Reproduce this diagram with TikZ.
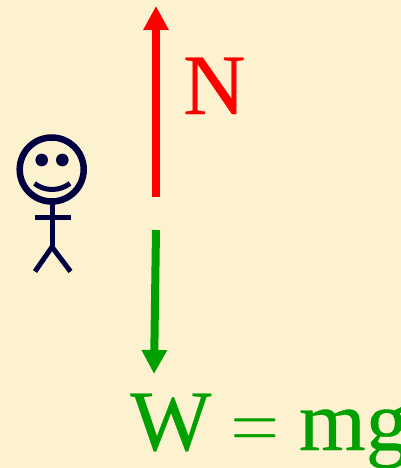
\documentclass[tikz,border=0pt]{standalone}
\usepackage{fontspec}
\setmainfont[FakeBold=0.4]{Liberation Serif}
\newfontfamily\eqfont{Latin Modern Roman}
\usetikzlibrary{arrows.meta}
\definecolor{bgc}{HTML}{FCF2D0}
\definecolor{navyc}{HTML}{000040}
\definecolor{greenc}{HTML}{00A000}
\tikzset{
  x=1pt,y=-1pt,
  force/.style={line width=8pt,-{Triangle[length=24pt,width=24pt]}},
  figure/.style={navyc,line width=5pt},
  lab/.style={anchor=base west,inner sep=0pt,font=\fontsize{86}{90}\selectfont}
}
\begin{document}
\begin{tikzpicture}
\useasboundingbox (0,0) rectangle (401,468);
\clip (0,0) rectangle (401,468);
\fill[bgc] (0,0) rectangle (401,468);
% forces
\coordinate (nstart) at (156,197);
\coordinate (ntip) at (156,6);
\coordinate (wstart) at (156,230);
\coordinate (wtip) at (154,374);
\draw[force,red] (nstart) -- (ntip);
\draw[force,greenc] (wstart) -- (wtip);
\node[lab,text=red] (nlabel) at (183,114) {N};
\node[lab,text=greenc] (wlabel) at (130,450) {W\kern-1pt{} \scalebox{1}[1.35]{\eqfont\fontsize{66}{70}\selectfont =}\kern-2pt{} mg};
% stick figure
\draw[figure,line width=6.5pt] (51.7,169.5) circle (32);
\fill[navyc] (41.7,160) circle (6.3);
\fill[navyc] (62.3,160) circle (6.3);
\draw[figure] (34.5,183.5) .. controls (45,191.5) and (59,191.5) .. (70,183.5);
\draw[figure] (52,203) -- (52,247);
\draw[figure] (34.7,217.7) -- (70.7,217.7);
\draw[figure] (35,271.5) -- (52,247) -- (70.5,271.5);
\end{tikzpicture}
\end{document}
